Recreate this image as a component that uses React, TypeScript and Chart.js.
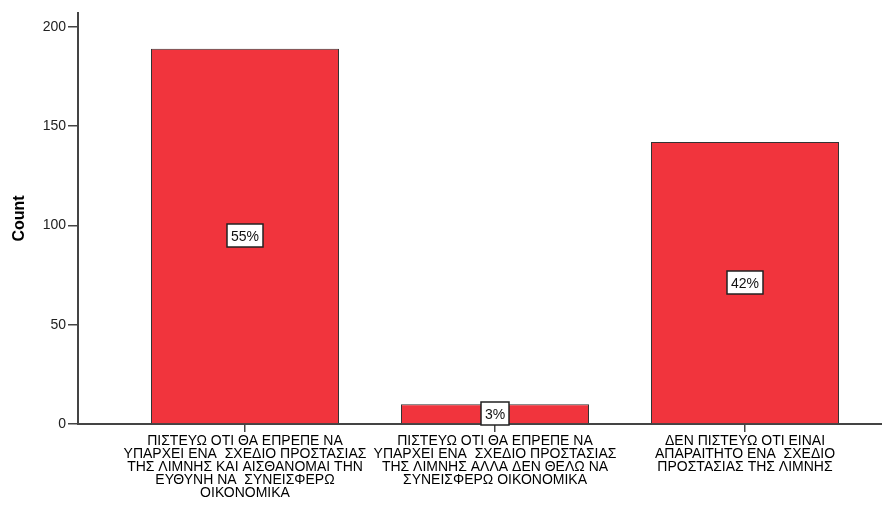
import React, { useEffect, useRef } from "react";
import { Chart, registerables } from "chart.js";

Chart.register(...registerables);

const categories: string[][] = [
  ["ΠΙΣΤΕΥΩ ΟΤΙ ΘΑ ΕΠΡΕΠΕ ΝΑ", "ΥΠΑΡΧΕΙ ΕΝΑ  ΣΧΕΔΙΟ ΠΡΟΣΤΑΣΙΑΣ", "ΤΗΣ ΛΙΜΝΗΣ ΚΑΙ ΑΙΣΘΑΝΟΜΑΙ ΤΗΝ", "ΕΥΘΥΝΗ ΝΑ  ΣΥΝΕΙΣΦΕΡΩ", "ΟΙΚΟΝΟΜΙΚΑ"],
  ["ΠΙΣΤΕΥΩ ΟΤΙ ΘΑ ΕΠΡΕΠΕ ΝΑ", "ΥΠΑΡΧΕΙ ΕΝΑ  ΣΧΕΔΙΟ ΠΡΟΣΤΑΣΙΑΣ", "ΤΗΣ ΛΙΜΝΗΣ ΑΛΛΑ ΔΕΝ ΘΕΛΩ ΝΑ", "ΣΥΝΕΙΣΦΕΡΩ ΟΙΚΟΝΟΜΙΚΑ"],
  ["ΔΕΝ ΠΙΣΤΕΥΩ ΟΤΙ ΕΙΝΑΙ", "ΑΠΑΡΑΙΤΗΤΟ ΕΝΑ  ΣΧΕΔΙΟ", "ΠΡΟΣΤΑΣΙΑΣ ΤΗΣ ΛΙΜΝΗΣ"],
];
const counts: number[] = [189, 10, 142];
const yTicks: number[] = [0, 50, 100, 150, 200];
const yTitle = "Count";

const FONT = "'Liberation Sans', Arial, sans-serif";

const pctPlugin = {
  id: "pctLabels",
  afterDraw(chart: any) {
    const ctx = chart.ctx;
    const meta = chart.getDatasetMeta(0);
    const total = counts.reduce((a, b) => a + b, 0);
    ctx.save();
    ctx.font = `14px ${FONT}`;
    ctx.textAlign = "center";
    ctx.textBaseline = "middle";
    meta.data.forEach((bar: any, i: number) => {
      const { x, y, base } = bar.getProps(["x", "y", "base"], true);
      const cy = (y + base) / 2;
      const text = Math.round((counts[i] / total) * 100) + "%";
      const w = ctx.measureText(text).width + 8;
      const h = 23;
      ctx.fillStyle = "#ffffff";
      ctx.fillRect(Math.round(x - w / 2), Math.round(cy - h / 2), Math.round(w), h);
      ctx.strokeStyle = "#222222";
      ctx.lineWidth = 1.5;
      ctx.strokeRect(Math.round(x - w / 2), Math.round(cy - h / 2), Math.round(w), h);
      ctx.fillStyle = "#111111";
      ctx.fillText(text, x, cy + 1);
    });
    ctx.restore();
  },
};

export default function App() {
  const ref = useRef<HTMLCanvasElement>(null);
  useEffect(() => {
    if (!ref.current) return;
    const chart = new Chart(ref.current, {
      type: "bar",
      data: {
        datasets: [
          {
            data: counts.map((v, i) => ({ x: i, y: v })),
            backgroundColor: "#f1343d",
            borderColor: "#333333",
            borderWidth: 1,
            barPercentage: 1,
            categoryPercentage: 0.752,
          },
        ],
      },
      options: {
        animation: false,
        responsive: false,
        layout: { padding: { top: 13, left: 0, right: 0, bottom: 0 } },
        plugins: { legend: { display: false }, tooltip: { enabled: false } },
        scales: {
          x: {
            type: "linear",
            min: -0.668,
            max: 2.548,
            offset: false,
            grid: {
              display: true,
              drawOnChartArea: false,
              drawTicks: true,
              tickLength: 8,
              color: "#444444",
              lineWidth: 1.5,
              offset: false,
            },
            border: { display: true, color: "#444444", width: 2 },
            afterBuildTicks: (scale: any) => {
              scale.ticks = categories.map((_, i) => ({ value: i }));
            },
            afterFit: (scale: any) => {
              scale.height = 82;
            },
            ticks: {
              autoSkip: false,
              maxRotation: 0,
              minRotation: 0,
              padding: 3,
              color: "#000000",
              font: { family: FONT, size: 14, lineHeight: "13px" },
              callback: (value: any) => categories[value as number] ?? "",
            },
          },
          y: {
            min: 0,
            max: 207,
            grid: {
              display: true,
              drawOnChartArea: false,
              drawTicks: true,
              tickLength: 10,
              color: "#444444",
              lineWidth: 1.5,
            },
            border: { display: true, color: "#444444", width: 2 },
            afterBuildTicks: (scale: any) => {
              scale.ticks = yTicks.map((v) => ({ value: v }));
            },
            afterFit: (scale: any) => {
              scale.width = 78;
            },
            ticks: {
              padding: 2,
              color: "#222222",
              font: { family: FONT, size: 14 },
            },
            title: {
              display: true,
              text: yTitle,
              color: "#000000",
              font: { family: FONT, size: 16, weight: "bold" },
              padding: { top: 10, bottom: 0 },
            },
          },
        },
      },
      plugins: [pctPlugin],
    } as any);
    return () => chart.destroy();
  }, []);
  return (
    <div style={{ position: "fixed", left: 0, top: 0, width: 882, height: 506, background: "#fff" }}>
      <canvas ref={ref} width={882} height={506} style={{ display: "block" }} />
    </div>
  );
}
